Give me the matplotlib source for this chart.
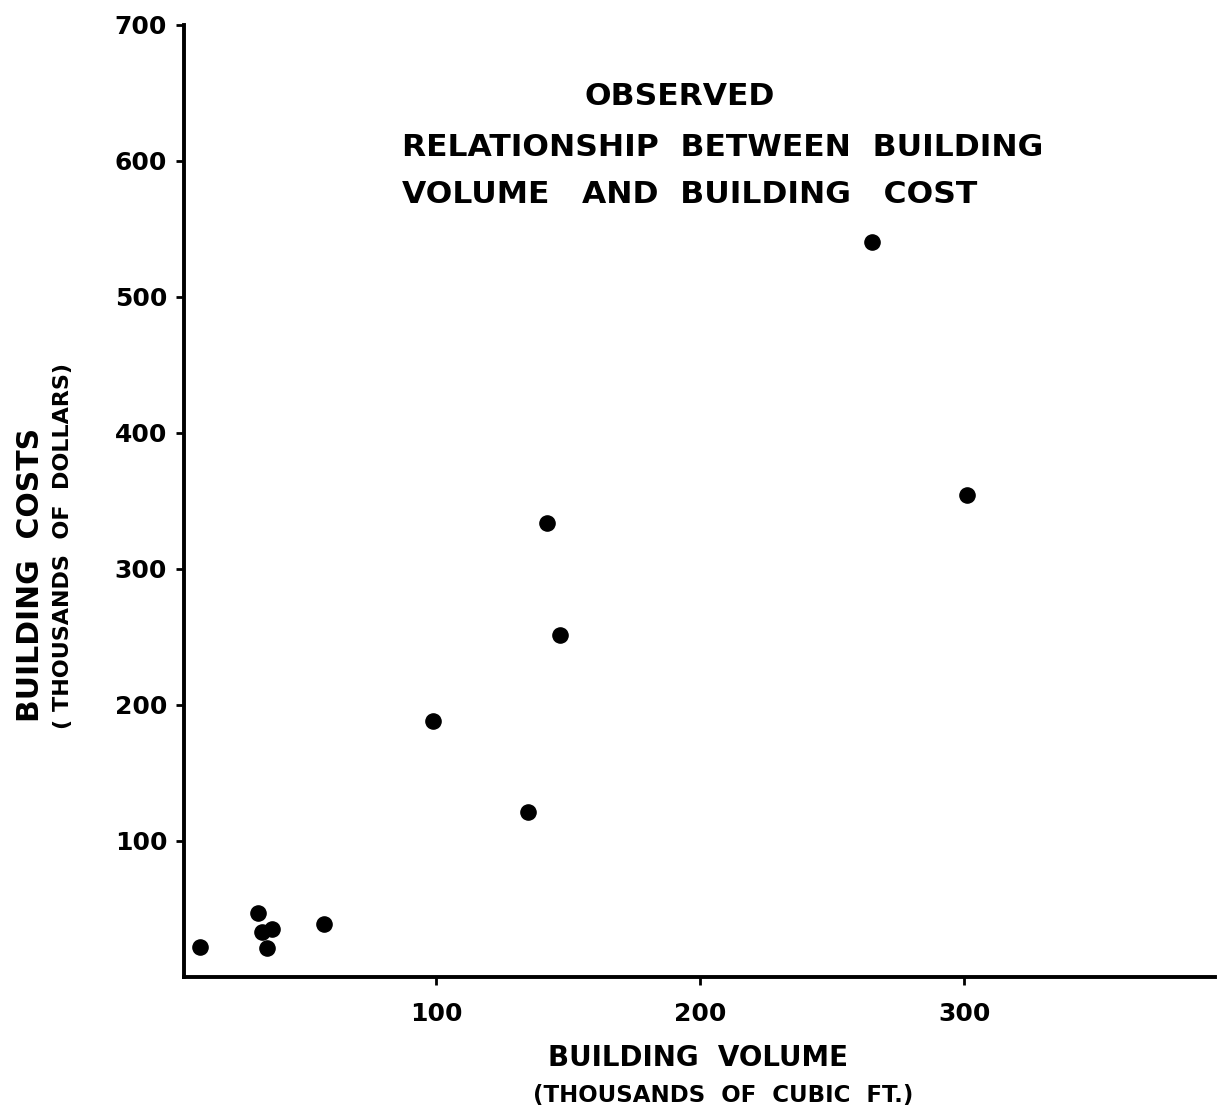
import matplotlib.pyplot as plt

# building volume (thousands of cubic ft) and cost (thousands of dollars)
volume = [10.6, 32.6, 34, 38, 36, 57.6, 99, 135, 142, 147, 265, 301]
cost = [22, 47, 33, 35, 21, 39, 188, 121, 334, 251, 540, 354]

x_ticks = [100, 200, 300]
y_ticks = [100, 200, 300, 400, 500, 600, 700]

plt.rcParams['font.family'] = ['DejaVu Sans']

fig = plt.figure(figsize=(12.26, 11.14), dpi=100)
ax = fig.add_axes([0.150, 0.123, 0.841, 0.855])

ax.scatter(volume, cost, s=120, color='black', zorder=3)

ax.set_xlim(4.5, 395)
ax.set_ylim(0, 700)
ax.set_xticks(x_ticks)
ax.set_yticks(y_ticks)
ax.set_xticklabels([str(v) for v in x_ticks], fontsize=18, fontweight='bold')
ax.set_yticklabels([str(v) for v in y_ticks], fontsize=18, fontweight='bold')
ax.tick_params(direction='out', length=6, width=2)
ax.tick_params(axis='x', pad=12)
ax.tick_params(axis='y', pad=6)

for side in ['top', 'right']:
    ax.spines[side].set_visible(False)
for side in ['left', 'bottom']:
    ax.spines[side].set_linewidth(2.8)

fig.text(0.554, 0.913, 'OBSERVED', fontsize=22.6, fontweight='bold',
         ha='center', va='center')
fig.text(0.328, 0.868, 'RELATIONSHIP  BETWEEN  BUILDING', fontsize=22.6,
         fontweight='bold', ha='left', va='center')
fig.text(0.328, 0.825, 'VOLUME   AND  BUILDING   COST', fontsize=22.6,
         fontweight='bold', ha='left', va='center')

fig.text(0.569, 0.050, 'BUILDING  VOLUME', fontsize=20, fontweight='bold',
         ha='center', va='center')
fig.text(0.590, 0.017, '(THOUSANDS  OF  CUBIC  FT.)', fontsize=16.5,
         fontweight='bold', ha='center', va='center')

fig.text(0.025, 0.484, 'BUILDING  COSTS', fontsize=21.5, fontweight='bold',
         rotation=90, ha='center', va='center')
fig.text(0.051, 0.510, '( THOUSANDS  OF  DOLLARS)', fontsize=16,
         fontweight='bold', rotation=90, ha='center', va='center')

fig.savefig('out.png', dpi=100)
